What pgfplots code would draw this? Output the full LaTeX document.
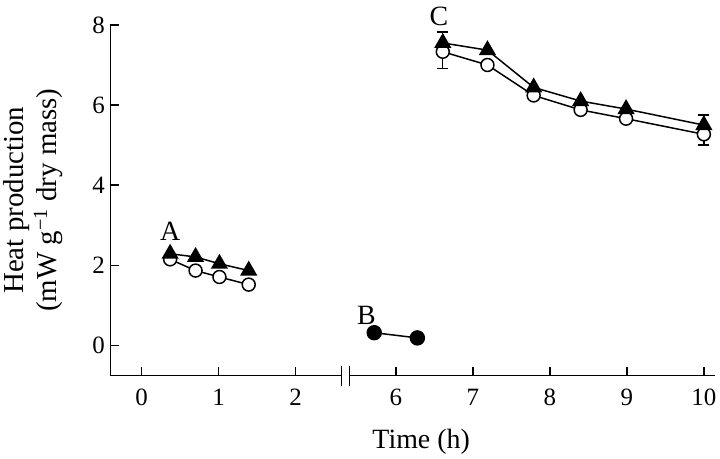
\documentclass[border=0pt]{standalone}
\usepackage{fontspec}
\setmainfont{Liberation Serif}
\usepackage{pgfplots}
\pgfplotsset{compat=1.18}
\begin{document}
\begin{tikzpicture}
\begin{axis}[
  name=ax,
  scale only axis,
  width=607pt, height=352pt,
  xmin=-0.407, xmax=7.445,
  ymin=-0.75, ymax=8,
  axis lines=left,
  axis line style={-, line width=1.5pt},
  tick style={line width=1.5pt, black},
  tick align=inside,
  major tick length=9pt,
  xtick={0,1,2,3.3,4.3,5.3,6.3,7.3},
  xticklabels={0,1,2,6,7,8,9,10},
  ytick={0,2,4,6,8},
  /pgf/number format/assume math mode=true,
  tick label style={font=\fontsize{25}{25}\selectfont},
  xticklabel style={yshift=-10pt},
  yticklabel style={xshift=-2pt},
  xlabel={Time (h)},
  xlabel style={at={(axis description cs:0.514,-0.19)}, anchor=center, font=\fontsize{28}{28}\selectfont},
  ylabel={Heat production\\(mW g\textsuperscript{−1} dry mass)},
  ylabel style={at={(axis description cs:-0.128,0.5)}, anchor=center, align=center, font=\fontsize{29}{33}\selectfont},
  clip=false,
]
% error bars
\addplot[black, line width=1.4pt, only marks, mark=none,
  error bars/.cd, y dir=both, y explicit,
  error mark=-, error bar style={line width=1.4pt},
  error mark options={line width=1.4pt, mark size=5.5pt, rotate=90}]
  coordinates {(3.91,7.365) +- (0,0.455) (7.30,5.375) +- (0,0.375)};
% A circles
\addplot[black, line width=1.5pt, mark=*, mark size=6.5pt, mark options={fill=white, line width=1.5pt}]
  coordinates {(0.37,2.15) (0.70,1.87) (1.01,1.71) (1.39,1.52)};
% A triangles
\addplot[black, line width=1.5pt, mark=triangle*, mark size=8.5pt, mark options={fill=black}]
  coordinates {(0.37,2.29) (0.70,2.21) (1.01,2.04) (1.39,1.87)};
% B
\addplot[black, line width=1.5pt, mark=*, mark size=7pt, mark options={fill=black}]
  coordinates {(3.02,0.32) (3.58,0.19)};
% C circles
\addplot[black, line width=1.5pt, mark=*, mark size=6.5pt, mark options={fill=white, line width=1.5pt}]
  coordinates {(3.91,7.33) (4.49,7.00) (5.09,6.24) (5.70,5.88) (6.29,5.66) (7.30,5.27)};
% C triangles
\addplot[black, line width=1.5pt, mark=triangle*, mark size=8.5pt, mark options={fill=black}]
  coordinates {(3.91,7.55) (4.49,7.37) (5.09,6.44) (5.70,6.10) (6.29,5.90) (7.30,5.50)};
\node[font=\fontsize{28}{28}\selectfont] at (axis cs:0.37,2.86) {A};
\node[font=\fontsize{28}{28}\selectfont] at (axis cs:2.92,0.75) {B};
\node[font=\fontsize{28}{28}\selectfont] at (axis cs:3.86,8.2) {C};
% axis break
\fill[white] ([yshift=-2pt]axis cs:2.598,-0.75) rectangle ([yshift=2pt]axis cs:2.70,-0.75);
\draw[line width=1.5pt] ([yshift=-10pt]axis cs:2.598,-0.75) -- ([yshift=10pt]axis cs:2.598,-0.75);
\draw[line width=1.5pt] ([yshift=-10pt]axis cs:2.70,-0.75) -- ([yshift=10pt]axis cs:2.70,-0.75);
\end{axis}
\path (ax.south west) ++(-108pt,-83pt) rectangle ++(720pt,460pt);
\end{tikzpicture}
\end{document}
